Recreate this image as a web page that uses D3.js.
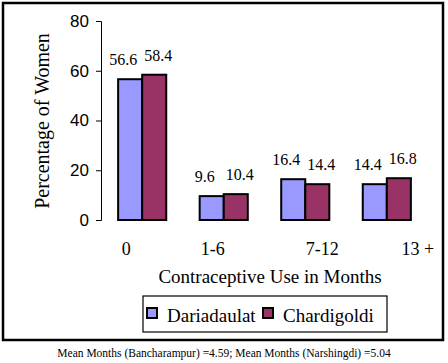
<!DOCTYPE html>
<html lang="en">
<head>
<meta charset="UTF-8">
<title>Contraceptive Use in Months</title>
<style>
  body { margin: 0; background: #fff; }
</style>
</head>
<body>
<svg id="chart"></svg>
<script src="https://d3js.org/d3.v7.min.js"></script>
<script>
// data
const categories = ['0', '1-6', '7-12', '13 +'];
const seriesNames = ['Dariadaulat', 'Chardigoldi'];
const dariadaulat = [56.6, 9.6, 16.4, 14.4];
const chardigoldi = [58.4, 10.4, 14.4, 16.8];
const yTicks = [0, 20, 40, 60, 80];
const colors = ['#9999ff', '#993366'];
const footnote = 'Mean Months (Bancharampur) =4.59; Mean Months (Narshingdi) =5.04';

const W = 448, H = 363;
const SERIF = 'Liberation Serif';
const SANS = 'Liberation Sans';

const rows = categories.map((c, i) => ({ cat: c, values: [dariadaulat[i], chardigoldi[i]] }));

const svg = d3.select('#chart').attr('width', W).attr('height', H);

// outer frame
svg.append('rect')
  .attr('x', 3).attr('y', 3)
  .attr('width', 440).attr('height', 337)
  .attr('fill', 'none').attr('stroke', '#000').attr('stroke-width', 2.5);

const x0 = d3.scaleBand()
  .domain(categories)
  .range([101, 428])
  .paddingInner(0.41)
  .paddingOuter(0.21);

const x1 = d3.scaleBand()
  .domain(seriesNames)
  .range([0, x0.bandwidth()]);

const y = d3.scaleLinear().domain([0, 80]).range([220, 21]);

// y axis
const yAxis = svg.append('g')
  .attr('transform', 'translate(101,0)')
  .call(d3.axisLeft(y).tickValues(yTicks).tickSize(5).tickPadding(7));
yAxis.attr('font-family', SANS).attr('font-size', 17);
yAxis.select('.domain').attr('stroke', '#000').attr('stroke-width', 1);
yAxis.selectAll('.tick line').attr('stroke', '#000');
yAxis.selectAll('.tick text').attr('fill', '#000');

// bars
const groups = svg.selectAll('.grp')
  .data(rows)
  .enter().append('g')
  .attr('class', 'grp')
  .attr('transform', d => `translate(${x0(d.cat)},0)`);

groups.selectAll('rect')
  .data(d => d.values.map((v, i) => ({ name: seriesNames[i], v, i })))
  .enter().append('rect')
  .attr('x', d => x1(d.name))
  .attr('y', d => y(d.v))
  .attr('width', x1.bandwidth())
  .attr('height', d => y(0) - y(d.v))
  .attr('fill', d => colors[d.i])
  .attr('stroke', '#000')
  .attr('stroke-width', 2);

// value labels (Excel nudges them apart a little)
groups.selectAll('.val')
  .data(d => d.values.map((v, i) => ({ name: seriesNames[i], v, i })))
  .enter().append('text')
  .attr('class', 'val')
  .attr('x', d => x1(d.name) + x1.bandwidth() / 2 + (d.i === 0 ? -7 : 4))
  .attr('y', d => y(d.v) - 14)
  .attr('text-anchor', 'middle')
  .attr('font-family', SERIF)
  .attr('font-size', 16)
  .text(d => d.v.toFixed(1));

// category labels
const tickNudge = [-16, -11, 17, 31];
svg.append('g').selectAll('text')
  .data(categories)
  .enter().append('text')
  .attr('x', (d, i) => x0(d) + x0.bandwidth() / 2 + tickNudge[i])
  .attr('y', 255)
  .attr('text-anchor', 'middle')
  .attr('font-family', SERIF)
  .attr('font-size', 18)
  .text(d => d);

// axis titles
svg.append('text')
  .attr('x', 270).attr('y', 283)
  .attr('text-anchor', 'middle')
  .attr('font-family', SERIF).attr('font-size', 19)
  .text('Contraceptive Use in Months');

svg.append('text')
  .attr('transform', 'translate(49,121) rotate(-90)')
  .attr('text-anchor', 'middle')
  .attr('font-family', SERIF).attr('font-size', 20)
  .text('Percentage of Women');

// legend
const legend = svg.append('g');
legend.append('rect')
  .attr('x', 143).attr('y', 296)
  .attr('width', 244).attr('height', 36)
  .attr('fill', '#fff').attr('stroke', '#000').attr('stroke-width', 1.2);

const legX = [147, 263];
const items = legend.selectAll('.item')
  .data(seriesNames)
  .enter().append('g')
  .attr('class', 'item')
  .attr('transform', (d, i) => `translate(${legX[i]},308)`);
items.append('rect')
  .attr('width', 10).attr('height', 10)
  .attr('fill', (d, i) => colors[i])
  .attr('stroke', '#000').attr('stroke-width', 2);
items.append('text')
  .attr('x', 20).attr('y', 14)
  .attr('font-family', SERIF).attr('font-size', 19)
  .text(d => d);

// footnote
svg.append('text')
  .attr('x', 224).attr('y', 357)
  .attr('text-anchor', 'middle')
  .attr('font-family', SERIF).attr('font-size', 11.5)
  .text(footnote);
</script>
</body>
</html>
